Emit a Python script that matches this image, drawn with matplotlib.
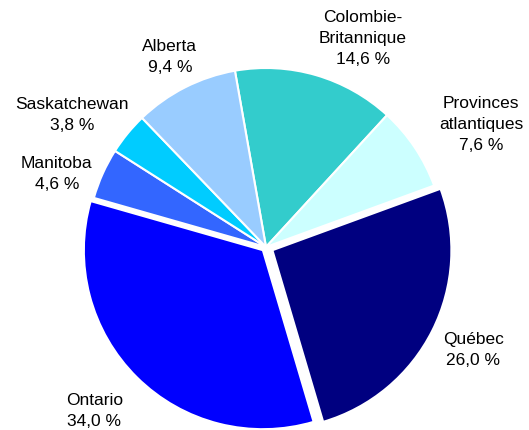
import numpy as np
import matplotlib
matplotlib.use("Agg")
import matplotlib.pyplot as plt

plt.rcParams['font.family'] = ['Liberation Sans', 'DejaVu Sans']

# Provinces, clockwise from the top
provinces = ["Colombie-\nBritannique", "Provinces\natlantiques", "Québec",
             "Ontario", "Manitoba", "Saskatchewan", "Alberta"]
shares = [14.6, 7.6, 26.0, 34.0, 4.6, 3.8, 9.4]
colors = ["#33CCCC", "#CCFFFF", "#000080", "#0000FF", "#3366FF", "#00CCFF", "#99CCFF"]
explode_frac = [0, 0, 0.04, 0.025, 0, 0, 0]

# label placement: distance from centre (in radii) and angle nudge (deg)
label_dist = [1.29, 1.386, 1.29, 1.322, 1.24, 1.313, 1.195]
label_nudge = [-8.5, -3.8, 0.5, -1.75, 4.7, 5.0, -0.2]

fig = plt.figure(figsize=(5.29, 4.31), dpi=100)
ax = fig.add_axes([0, 0, 1, 1])

cx, cy, r = 266, 183, 179
# pie() offsets exploded wedges in data units, so scale by the radius
explode = [e * r for e in explode_frac]
wedges, _ = ax.pie(shares, colors=colors, explode=explode, startangle=100,
                   counterclock=False, center=(cx, cy), radius=r, frame=True,
                   wedgeprops=dict(edgecolor='white', linewidth=1.5))
ax.set_aspect('equal')
ax.axis('off')
ax.set_xlim(0, 529)
ax.set_ylim(0, 431)

for w, name, val, d, nudge in zip(wedges, provinces, shares, label_dist, label_nudge):
    ang = np.deg2rad((w.theta1 + w.theta2) / 2 + nudge)
    x = cx + d * r * np.cos(ang)
    y = cy + d * r * np.sin(ang)
    txt = name + "\n" + f"{val:.1f} %".replace(".", ",")
    ax.text(x, y, txt, ha='center', va='center', fontsize=12.5,
            color='black', linespacing=1.5, clip_on=False)

fig.savefig("out.png", dpi=100)
